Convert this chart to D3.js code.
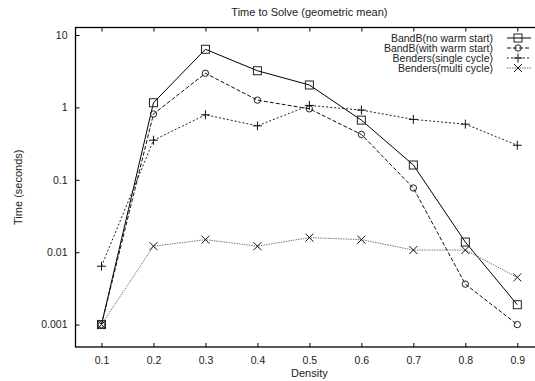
<!DOCTYPE html>
<html>
<head>
<meta charset="utf-8">
<script src="https://cdn.jsdelivr.net/npm/d3@7"></script>
<style>
  body { margin: 0; background: #fff; }
  text { font-family: "Liberation Sans", Arial, sans-serif; fill: #222; }
</style>
</head>
<body>
<div id="chart"></div>
<script>
// chart data
var density   = [0.1, 0.2, 0.3, 0.4, 0.5, 0.6, 0.7, 0.8, 0.9];
var noWarm    = [0.001, 1.16, 6.35, 3.21, 2.04, 0.667, 0.16, 0.0138, 0.00188];
var withWarm  = [0.001, 0.81, 2.96, 1.26, 0.956, 0.423, 0.077, 0.00362, 0.001];
var single    = [0.0064, 0.352, 0.79, 0.556, 1.066, 0.918, 0.682, 0.587, 0.30];
var multi     = [0.001, 0.0121, 0.0149, 0.0121, 0.0159, 0.0149, 0.0107, 0.0107, 0.00448];
var names     = ["BandB(no warm start)", "BandB(with warm start)", "Benders(single cycle)", "Benders(multi cycle)"];
var xTicks    = [0.1, 0.2, 0.3, 0.4, 0.5, 0.6, 0.7, 0.8, 0.9];
var yTicks    = [0.001, 0.01, 0.1, 1, 10];
var yTickText = ["0.001", "0.01", "0.1", "1", "10"];

var w = 535, h = 381;
// plot box (right edge lies past the page, as in the original)
var boxL = 75.5, boxR = 543.3, boxT = 27.5, boxB = 347;

var svg = d3.select("#chart").append("svg")
    .attr("width", w)
    .attr("height", h);

var x = d3.scaleLinear().domain([0.05, 0.95]).range([boxL, boxR]);
var y = d3.scaleLog().domain([0.00049, 12.7]).range([boxB, boxT]);

// axes (ticks pointing inward, gnuplot style)
var xAxis = svg.append("g")
    .attr("transform", "translate(0," + boxB + ")")
    .call(d3.axisBottom(x).tickValues(xTicks).tickFormat(d3.format(".1f"))
      .tickSizeInner(-4).tickSizeOuter(0).tickPadding(8));
xAxis.select(".domain").remove();
xAxis.selectAll("text").attr("font-size", "10.5px").attr("dy", "0.9em");

var xTop = svg.append("g")
    .attr("transform", "translate(0," + boxT + ")")
    .call(d3.axisTop(x).tickValues(xTicks).tickFormat("").tickSizeInner(-4).tickSizeOuter(0));
xTop.select(".domain").remove();

var yAxis = svg.append("g")
    .attr("transform", "translate(" + boxL + ",0)")
    .call(d3.axisLeft(y).tickValues(yTicks).tickFormat(function(d, i) { return yTickText[i]; })
      .tickSizeInner(-4).tickSizeOuter(0).tickPadding(8));
yAxis.select(".domain").remove();
yAxis.selectAll("text").attr("font-size", "10.5px");

svg.selectAll(".tick line").attr("stroke", "#000");

// frame
svg.append("rect")
   .attr("x", boxL).attr("y", boxT)
   .attr("width", boxR - boxL).attr("height", boxB - boxT)
   .attr("fill", "none").attr("stroke", "#000").attr("stroke-width", 1.3);

// titles
svg.append("text").attr("x", (boxL + boxR) / 2).attr("y", 16)
   .attr("text-anchor", "middle").attr("font-size", "11px")
   .text("Time to Solve (geometric mean)");
svg.append("text").attr("x", (boxL + boxR) / 2).attr("y", 377)
   .attr("text-anchor", "middle").attr("font-size", "11px")
   .text("Density");
svg.append("text")
   .attr("transform", "translate(22," + ((boxT + boxB) / 2) + ") rotate(-90)")
   .attr("text-anchor", "middle").attr("font-size", "11px")
   .text("Time (seconds)");

// marker shapes
function marker(g, type, cx, cy) {
  if (type === "square") {
    g.append("rect").attr("x", cx - 4).attr("y", cy - 4).attr("width", 8).attr("height", 8)
     .attr("fill", "none").attr("stroke", "#222").attr("stroke-width", 1);
  } else if (type === "circle") {
    g.append("circle").attr("cx", cx).attr("cy", cy).attr("r", 3.2)
     .attr("fill", "none").attr("stroke", "#222").attr("stroke-width", 1);
  } else if (type === "plus") {
    g.append("path").attr("d", "M" + (cx - 4.5) + "," + cy + "h9M" + cx + "," + (cy - 4.5) + "v9")
     .attr("stroke", "#111").attr("stroke-width", 1);
  } else {
    g.append("path").attr("d", "M" + (cx - 4) + "," + (cy - 4) + "l8,8M" + (cx - 4) + "," + (cy + 4) + "l8,-8")
     .attr("stroke", "#111").attr("stroke-width", 1);
  }
}

var series = [
  { name: names[0], values: noWarm,   type: "square", dash: null,    color: "#000" },
  { name: names[1], values: withWarm, type: "circle", dash: "4,2",   color: "#111" },
  { name: names[2], values: single,   type: "plus",   dash: "2,2",   color: "#222" },
  { name: names[3], values: multi,    type: "cross",  dash: "1.5,1", color: "#777" }
];

var line = d3.line()
    .x(function(d, i) { return x(density[i]); })
    .y(function(d) { return y(d); });

series.forEach(function(s, k) {
  var g = svg.append("g");
  g.append("path").datum(s.values)
   .attr("d", line)
   .attr("fill", "none")
   .attr("stroke", s.color)
   .attr("stroke-width", 1)
   .attr("stroke-dasharray", s.dash);
  s.values.forEach(function(v, i) { marker(g, s.type, x(density[i]), y(v)); });

  // legend entry
  var ly = 38 + k * 10;
  svg.append("text").attr("x", 493).attr("y", ly).attr("dy", "0.35em")
     .attr("text-anchor", "end").attr("font-size", "10.5px").text(s.name);
  svg.append("line").attr("x1", 507).attr("x2", 531).attr("y1", ly).attr("y2", ly)
     .attr("stroke", s.color).attr("stroke-width", 1).attr("stroke-dasharray", s.dash);
  marker(svg, s.type, 518, ly);
});
</script>
</body>
</html>
